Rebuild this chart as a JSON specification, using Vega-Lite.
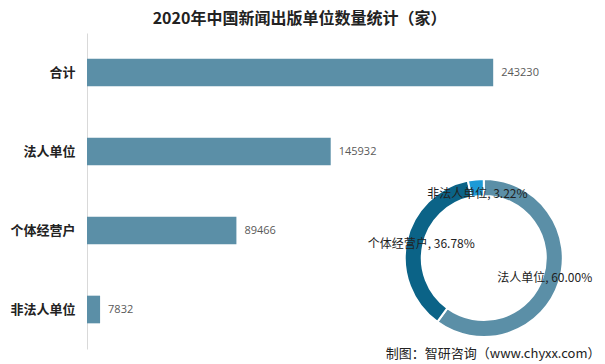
{
  "$schema": "https://vega.github.io/schema/vega-lite/v6.json",
  "autosize": "none",
  "width": 501,
  "height": 316,
  "padding": {"left": 87, "top": 33, "right": 17, "bottom": 15},
  "background": "white",
  "config": {"view": {"stroke": null}, "font": "Noto Sans CJK SC"},
  "title": {
    "text": "2020年中国新闻出版单位数量统计（家）",
    "frame": "group",
    "anchor": "middle",
    "dx": -38,
    "offset": 6,
    "fontSize": 16,
    "fontWeight": "bold",
    "color": "#222222",
    "font": "Noto Sans CJK SC"
  },
  "layer": [
    {
      "data": {
        "values": [
          {"cat": "合计", "value": 243230},
          {"cat": "法人单位", "value": 145932},
          {"cat": "个体经营户", "value": 89466},
          {"cat": "非法人单位", "value": 7832}
        ]
      },
      "encoding": {
        "y": {
          "field": "cat",
          "type": "nominal",
          "sort": null,
          "scale": {"paddingInner": 0.65, "paddingOuter": 0.325},
          "axis": {
            "title": null,
            "ticks": false,
            "labelPadding": 12,
            "labelFontSize": 13,
            "labelFontWeight": "bold",
            "labelColor": "#222222",
            "labelFont": "Noto Sans CJK SC",
            "domainColor": "#d9d9d9",
            "minExtent": 80,
            "maxExtent": 80
          }
        },
        "x": {
          "field": "value",
          "type": "quantitative",
          "scale": {"domain": [0, 300000], "nice": false},
          "axis": {
            "title": "制图：智研咨询（www.chyxx.com）",
            "labels": false,
            "ticks": false,
            "domain": false,
            "grid": false,
            "titleX": 513,
            "titleY": 4,
            "titleAlign": "right",
            "titleBaseline": "middle",
            "titleFontSize": 13,
            "titleFontWeight": "normal",
            "titleColor": "#222222",
            "titleFont": "Noto Sans CJK SC"
          }
        }
      },
      "layer": [
        {"mark": {"type": "bar", "color": "#5b8fa7"}},
        {
          "mark": {"type": "text", "align": "left", "dx": 8, "fontSize": 11, "color": "#595959", "font": "Open Sans"},
          "encoding": {"text": {"field": "value", "type": "quantitative", "format": "d"}}
        }
      ]
    },
    {
      "data": {
        "values": [
          {"type": "法人单位", "pct": 60.00},
          {"type": "个体经营户", "pct": 36.78},
          {"type": "非法人单位", "pct": 3.22}
        ]
      },
      "transform": [
        {"calculate": "datum.type + ', ' + format(datum.pct, '.2f') + '%'", "as": "label"}
      ],
      "encoding": {
        "theta": {"field": "pct", "type": "quantitative", "stack": true},
        "order": {"field": "pct", "sort": "descending"},
        "x": {"datum": 0.792, "type": "quantitative", "scale": {"domain": [0, 1]}, "axis": null},
        "y": {"datum": 0.288, "type": "quantitative", "scale": {"domain": [0, 1]}, "axis": null}
      },
      "layer": [
        {
          "mark": {"type": "arc", "radius": 79, "innerRadius": 62, "stroke": "white", "strokeWidth": 2},
          "encoding": {
            "color": {
              "field": "type",
              "type": "nominal",
              "scale": {"domain": ["法人单位", "个体经营户", "非法人单位"], "range": ["#5b8fa7", "#0b6387", "#1d9ad6"]},
              "legend": null
            }
          }
        },
        {
          "mark": {"type": "text", "radius": 64, "fontSize": 12, "color": "#222222", "font": "Noto Sans CJK SC"},
          "encoding": {"text": {"field": "label", "type": "nominal"}}
        }
      ]
    }
  ],
  "resolve": {"scale": {"x": "independent", "y": "independent", "theta": "independent"}}
}
